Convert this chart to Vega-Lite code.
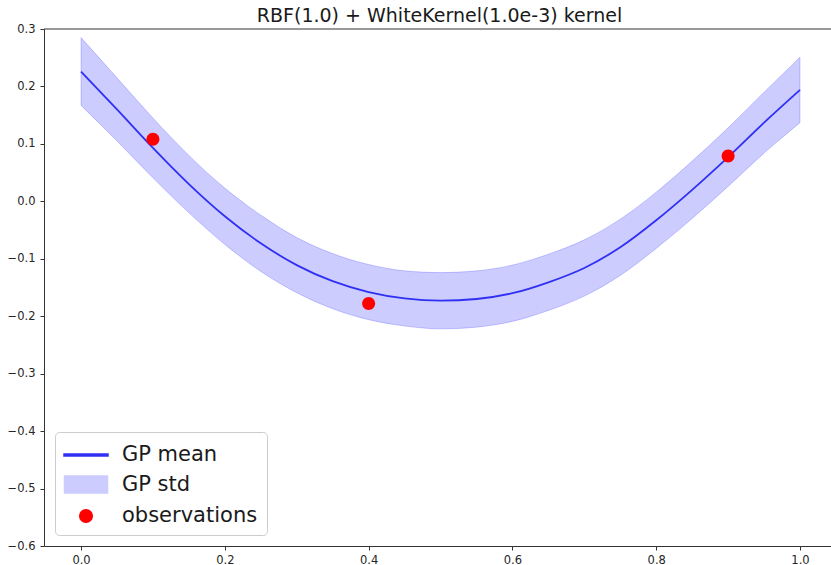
{
  "$schema": "https://vega.github.io/schema/vega-lite/v6.json",
  "autosize": "none",
  "padding": {"left": 44, "top": 29, "right": 0, "bottom": 19},
  "width": 787,
  "height": 517,
  "title": {
    "text": "RBF(1.0) + WhiteKernel(1.0e-3) kernel",
    "font": "DejaVu Sans",
    "fontSize": 19,
    "fontWeight": "normal",
    "color": "#1a1a1a",
    "anchor": "middle",
    "frame": "group",
    "baseline": "alphabetic",
    "offset": 0,
    "dx": 2,
    "dy": 18
  },
  "datasets": {
    "posterior": [
      {"x": 0.00, "mean": 0.226, "lower": 0.167, "upper": 0.285},
      {"x": 0.05, "mean": 0.160, "lower": 0.105, "upper": 0.215},
      {"x": 0.10, "mean": 0.093, "lower": 0.041, "upper": 0.145},
      {"x": 0.15, "mean": 0.030, "lower": -0.020, "upper": 0.080},
      {"x": 0.20, "mean": -0.026, "lower": -0.075, "upper": 0.023},
      {"x": 0.25, "mean": -0.073, "lower": -0.122, "upper": -0.024},
      {"x": 0.30, "mean": -0.111, "lower": -0.159, "upper": -0.063},
      {"x": 0.35, "mean": -0.139, "lower": -0.187, "upper": -0.091},
      {"x": 0.40, "mean": -0.158, "lower": -0.206, "upper": -0.110},
      {"x": 0.45, "mean": -0.169, "lower": -0.217, "upper": -0.121},
      {"x": 0.50, "mean": -0.173, "lower": -0.222, "upper": -0.124},
      {"x": 0.55, "mean": -0.170, "lower": -0.219, "upper": -0.121},
      {"x": 0.60, "mean": -0.160, "lower": -0.209, "upper": -0.111},
      {"x": 0.65, "mean": -0.141, "lower": -0.190, "upper": -0.092},
      {"x": 0.70, "mean": -0.116, "lower": -0.165, "upper": -0.067},
      {"x": 0.75, "mean": -0.080, "lower": -0.129, "upper": -0.031},
      {"x": 0.80, "mean": -0.033, "lower": -0.082, "upper": 0.016},
      {"x": 0.85, "mean": 0.020, "lower": -0.030, "upper": 0.070},
      {"x": 0.90, "mean": 0.077, "lower": 0.026, "upper": 0.128},
      {"x": 0.95, "mean": 0.137, "lower": 0.084, "upper": 0.190},
      {"x": 1.00, "mean": 0.194, "lower": 0.137, "upper": 0.251}
    ],
    "observations": [
      {"x": 0.1, "y": 0.108},
      {"x": 0.4, "y": -0.178},
      {"x": 0.9, "y": 0.079}
    ]
  },
  "layer": [
    {
      "data": {"name": "posterior"},
      "mark": {
        "type": "area",
        "interpolate": "monotone",
        "fillOpacity": 1,
        "stroke": "#0000ff",
        "strokeOpacity": 0.18,
        "strokeWidth": 1
      },
      "encoding": {
        "x": {
          "field": "x",
          "type": "quantitative",
          "scale": {"domain": [-0.0515, 1.0431], "nice": false, "zero": false},
          "axis": {"values": [0, 0.2, 0.4, 0.6, 0.8, 1.0], "format": ".1f", "title": null}
        },
        "y": {
          "field": "lower",
          "type": "quantitative",
          "scale": {"domain": [-0.6, 0.3], "nice": false, "zero": false},
          "axis": {"values": [-0.6, -0.5, -0.4, -0.3, -0.2, -0.1, 0, 0.1, 0.2, 0.3], "format": ".1f", "title": null}
        },
        "y2": {"field": "upper"},
        "color": {
          "datum": "GP std",
          "type": "nominal",
          "scale": {
            "domain": ["GP mean", "GP std", "observations"],
            "range": ["#3030f5", "#ccccff", "#ff0000"]
          },
          "legend": {
            "title": null,
            "orient": "bottom-left",
            "offset": 11,
            "padding": 9,
            "symbolOffset": 8,
            "symbolSize": 655,
            "labelOffset": 22,
            "rowPadding": 5.5,
            "labelFont": "DejaVu Sans",
            "labelFontSize": 21,
            "labelColor": "#1a1a1a",
            "strokeColor": "#cccccc",
            "fillColor": "rgba(255,255,255,0.8)",
            "cornerRadius": 4
          }
        }
      }
    },
    {
      "data": {"name": "posterior"},
      "mark": {"type": "line", "interpolate": "monotone", "strokeWidth": 1.8},
      "encoding": {
        "x": {"field": "x", "type": "quantitative"},
        "y": {"field": "mean", "type": "quantitative"},
        "color": {"datum": "GP mean", "type": "nominal", "legend": null}
      }
    },
    {
      "data": {"name": "observations"},
      "mark": {"type": "point", "filled": true, "size": 700, "opacity": 1},
      "encoding": {
        "x": {"field": "x", "type": "quantitative"},
        "y": {"field": "y", "type": "quantitative"},
        "color": {"datum": "observations", "type": "nominal", "legend": null},
        "shape": {
          "datum": "observations",
          "type": "nominal",
          "scale": {
            "domain": ["GP mean", "GP std", "observations"],
            "range": [
              "M-1.72,-0.075H1.72V0.075H-1.72Z",
              "M-1.68,-0.66H1.68V0.66H-1.68Z",
              "M0.49,0A0.49,0.49,0,1,1,-0.49,0A0.49,0.49,0,1,1,0.49,0Z"
            ]
          },
          "legend": {
            "title": null,
            "orient": "bottom-left",
            "offset": 11,
            "padding": 9,
            "symbolOffset": 8,
            "symbolSize": 655,
            "labelOffset": 22,
            "rowPadding": 5.5,
            "labelFont": "DejaVu Sans",
            "labelFontSize": 21,
            "labelColor": "#1a1a1a",
            "strokeColor": "#cccccc",
            "fillColor": "rgba(255,255,255,0.8)",
            "cornerRadius": 4
          }
        }
      }
    },
    {
      "data": {"values": [{"top": 0.3}]},
      "mark": {"type": "rule", "color": "#333333", "strokeWidth": 1},
      "encoding": {
        "y": {"field": "top", "type": "quantitative"}
      }
    }
  ],
  "config": {
    "view": {"stroke": null},
    "axis": {
      "grid": false,
      "labelFont": "DejaVu Sans",
      "labelFontSize": 11.5,
      "labelColor": "#262626",
      "tickColor": "#333333",
      "domainColor": "#333333",
      "tickSize": 4,
      "labelPadding": 4
    },
    "axisY": {"labelPadding": 5}
  }
}
